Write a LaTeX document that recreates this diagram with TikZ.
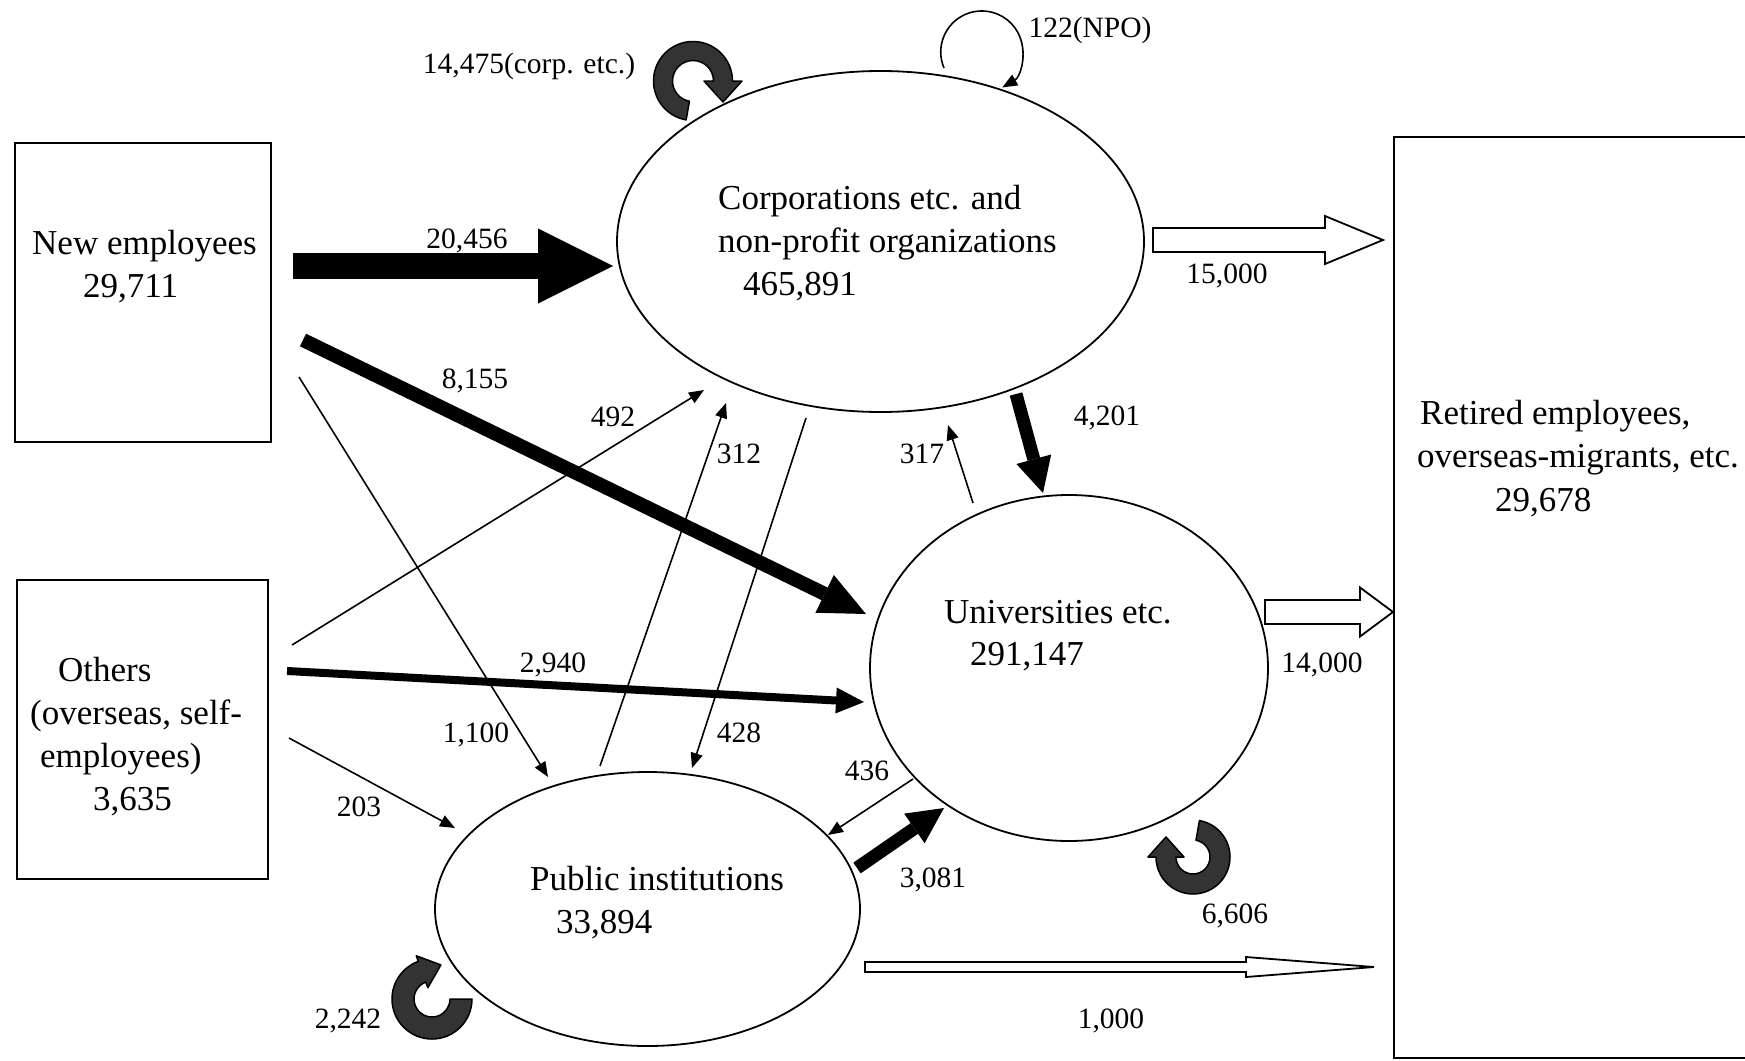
\documentclass[tikz,border=0pt]{standalone}
\usepackage{fontspec}
\setmainfont{Liberation Serif}
\usetikzlibrary{arrows.meta,calc,shapes.geometric}
\definecolor{rotgray}{HTML}{333333}
\newcommand\nodefont{\fontsize{35}{43}\selectfont}
\newcommand\labfont{\fontsize{29.5}{36}\selectfont}
% #1 center, #2 mid radius, #3 thickness, #4 start, #5 end, #6 head width, #7 head length, #8 tip direction angle
\newcommand\rotarrow[8]{%
 \pgfmathsetmacro\rOutR{#2+#3/2}%
 \pgfmathsetmacro\rInR{#2-#3/2}%
 \pgfmathsetmacro\hOutR{#2+#6/2}%
 \pgfmathsetmacro\hInR{#2-#6/2}%
 \filldraw[rotst] ($(#1)+(#4:\rOutR)$) arc[start angle=#4, end angle=#5, radius=\rOutR]
   -- ($(#1)+(#5:\hOutR)$) -- ($(#1)+(#5:#2)+(#8:#7)$) -- ($(#1)+(#5:\hInR)$)
   -- ($(#1)+(#5:\rInR)$) arc[start angle=#5, end angle=#4, radius=\rInR] -- cycle;}
% #1 tail, #2 tip, #3 half shaft, #4 half head, #5 head length
\newcommand\hollowarrow[5]{%
 \draw[hollowst] ($(#1)+(0,-#3)$) -- ($(#2)+(-#5,-#3)$) -- ($(#2)+(-#5,-#4)$) -- (#2)
   -- ($(#2)+(-#5,#4)$) -- ($(#2)+(-#5,#3)$) -- ($(#1)+(0,#3)$) -- cycle;}
\begin{document}
\begin{tikzpicture}[x=1pt,y=-1pt,
  nodef/.style={font=\nodefont, inner sep=0pt, anchor=base west},
  labf/.style={font=\labfont, inner sep=0pt, anchor=base},
  boxst/.style={draw, line width=1.8pt, inner sep=0pt},
  ellst/.style={ellipse, draw, line width=1.8pt, inner sep=0pt},
  thinarr/.style={line width=1.6pt, -{Triangle[length=15pt,width=12pt]}},
  hollowst/.style={draw, line width=1.8pt, fill=white, line join=miter},
  rotst/.style={fill=rotgray, draw=black, line width=1.5pt, line join=round}]
\useasboundingbox (0,0) rectangle (1745,1060);
\clip (0,0) rectangle (1745,1060);

% ---- nodes
\node[boxst, minimum width=256pt, minimum height=299pt] (newemp) at (143,292.5) {};
\node[boxst, minimum width=251pt, minimum height=299pt] (others) at (142.5,729.5) {};
\node[boxst, minimum width=420pt, minimum height=921pt] (retired) at (1604,597.5) {};
\node[ellst, minimum width=527pt, minimum height=341pt] (corp) at (880.5,241.5) {};
\node[ellst, minimum width=398pt, minimum height=346pt] (univ) at (1069,668) {};
\node[ellst, minimum width=425pt, minimum height=274pt] (pub) at (647.5,909) {};

% ---- node texts
\node[nodef] (ne1) at (32,254) {New employees};
\node[nodef] (ne2) at (83,297) {29,711};
\node[nodef] (ot1) at (58,681) {Others};
\node[nodef] (ot2) at (30,724) {(overseas, self-};
\node[nodef] (ot3) at (40,767) {employees)};
\node[nodef] (ot4) at (93,810) {3,635};
\node[nodef] (co1) at (718,209) {Corporations etc. and};
\node[nodef] (co2) at (718,252) {non-profit organizations};
\node[nodef] (co3) at (743,295) {465,891};
\node[nodef] (un1) at (944,623) {Universities etc.};
\node[nodef] (un2) at (970,665) {291,147};
\node[nodef] (pu1) at (530,890) {Public institutions};
\node[nodef] (pu2) at (556,933) {33,894};
\node[nodef] (re1) at (1420,424) {Retired employees,};
\node[nodef] (re2) at (1417,467) {overseas-migrants, etc.};
\node[nodef] (re3) at (1495,511) {29,678};

% ---- connector end points
\coordinate (a1s) at (293,266);   \coordinate (a1e) at (613,266);
\coordinate (a2s) at (303,340);   \coordinate (a2e) at (866,614);
\coordinate (a3s) at (287,671);   \coordinate (a3e) at (864,702);
\coordinate (a4s) at (1016,394);  \coordinate (a4e) at (1043,493);
\coordinate (a5s) at (857,868);   \coordinate (a5e) at (944,808);
\coordinate (t1s) at (299,377);   \coordinate (t1e) at (548,777);
\coordinate (t2s) at (292,645);   \coordinate (t2e) at (704,390);
\coordinate (t3s) at (600,766);   \coordinate (t3e) at (726,403);
\coordinate (t4s) at (806,418);   \coordinate (t4e) at (692,768);
\coordinate (t5s) at (289,738);   \coordinate (t5e) at (455,828);
\coordinate (t6s) at (973,503);   \coordinate (t6e) at (948,425);
\coordinate (t7s) at (913,779);   \coordinate (t7e) at (828,835);
\coordinate (h1s) at (1153,240);  \coordinate (h1e) at (1383,240);
\coordinate (h2s) at (1265,612);  \coordinate (h2e) at (1393,612);
\coordinate (h3s) at (865,967);   \coordinate (h3e) at (1374,967);
\coordinate (npo) at (944,68);
\coordinate (rcorp) at (693,81);
\coordinate (runiv) at (1193,857);
\coordinate (rpub) at (432,999);

% ---- thick arrows
\draw[line width=26pt, -{Triangle[length=75pt,width=75pt,line width=0pt]}] (a1s) -- (a1e);
\draw[line width=14pt, -{Triangle[length=46pt,width=42pt,line width=0pt]}] (a2s) -- (a2e);
\draw[line width=8pt, -{Triangle[length=28pt,width=26pt,line width=0pt]}] (a3s) -- (a3e);
\draw[line width=13pt, -{Triangle[length=35pt,width=36pt,line width=0pt]}] (a4s) -- (a4e);
\draw[line width=13pt, -{Triangle[length=36pt,width=36pt,line width=0pt]}] (a5s) -- (a5e);

% ---- thin arrows
\draw[thinarr] (t1s) -- (t1e);
\draw[thinarr] (t2s) -- (t2e);
\draw[thinarr] (t3s) -- (t3e);
\draw[thinarr] (t4s) -- (t4e);
\draw[thinarr] (t5s) -- (t5e);
\draw[thinarr] (t6s) -- (t6e);
\draw[thinarr] (t7s) -- (t7e);
\draw[thinarr] (npo) arc[start angle=157, end angle=420, radius=41];

% ---- hollow arrows
\hollowarrow{h1s}{h1e}{12}{24}{58}
\hollowarrow{h2s}{h2e}{12}{24.5}{33}
\hollowarrow{h3s}{h3e}{5}{10}{128}

% ---- circular arrows
\rotarrow{rcorp}{30}{19}{100}{360}{38}{21}{90}
\rotarrow{runiv}{27}{20}{280}{540}{36}{20}{270}
\rotarrow{rpub}{29}{22}{0}{250}{34}{20}{340}

% ---- labels
\node[labf] (l1) at (467,248) {20,456};
\node[labf] (l2) at (475,388) {8,155};
\node[labf] (l3) at (613,426) {492};
\node[labf] (l4) at (739,463) {312};
\node[labf] (l5) at (739,742) {428};
\node[labf] (l6) at (476,742) {1,100};
\node[labf] (l7) at (553,672) {2,940};
\node[labf] (l8) at (359,816) {203};
\node[labf] (l9) at (1107,425) {4,201};
\node[labf] (l10) at (922,463) {317};
\node[labf] (l11) at (867,780) {436};
\node[labf] (l12) at (933,887) {3,081};
\node[labf] (l13) at (1227,283) {15,000};
\node[labf] (l14) at (1322,672) {14,000};
\node[labf] (l15) at (1111,1028) {1,000};
\node[labf] (l16) at (1090,37) {122(NPO)};
\node[labf] (l17) at (529,73) {14,475(corp. etc.)};
\node[labf] (l18) at (1235,923) {6,606};
\node[labf] (l19) at (348,1028) {2,242};
\end{tikzpicture}
\end{document}
